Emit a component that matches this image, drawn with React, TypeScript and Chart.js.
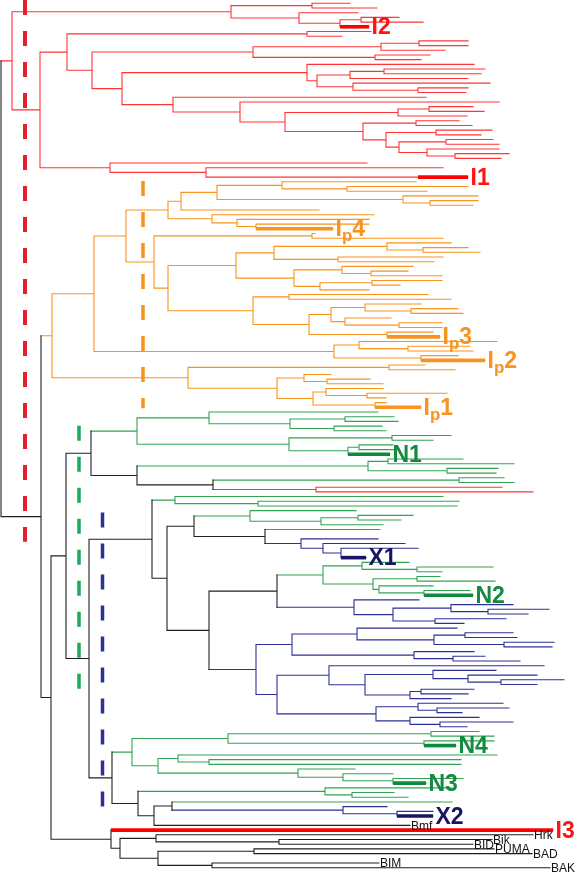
import { useEffect, useRef } from "react";
import { Chart, registerables } from "chart.js";

Chart.register(...registerables);

// ---- Tree data (Newick-like): "(children)x" = node whose vertical joint sits at depth x,
// leaf = [Name:]x = tip ending at depth x, lowercase letter = clade colour, "_" = empty row.
const redA = "((350,377)312,(358,((399,423)361,I2:369)340)299)231";
const redB1 = "(((468,468)419,445)381,(430,421)375)253";
const redB2 = "(474,(((485,481)384,468)350,(490,(468,466)418)353)317)307";
const redB3 =
  "(426,(499,(((473,484)429,467)398,((459,472)416,((492,481)436,((493,499)446,(499,(509,501)455)427)399)386)363)285)240)173";
const redB4 = "(367,(443,_,I1:468)206)110";
const redClade = `r(${redA},(((371,342)307,(${redB1},(${redB2},${redB3})122)92)67,${redB4})40)12`;

const orA = "(((416,(468,427)347)282,(478,(478,473)430)403)217,319)181";
const orB = "(374,(369,(369,Ip4:333)256)237)212";
const orC = "((451,(468,480)423)387,(443,434)338)274";
const orD = "((413,(408,442)371)342,((442,400)372,369)320)294";
const orE = "(((421,(458,463)411)365,(391,(442,442)399)345)331,(433,Ip3:440)387)309";
const orF = "((497,(470,473)408)359,(458,Ip2:485)421)334";
const orG = "((425,455)389,((331,(370,383)327)304,((383,(447,386)367)326,(386,Ip1:421)375)313)277)188";
const orangeClade = `o((((${orA},${orB})168,((315,443)312,((${orC},${orD})236,((428,451)289,${orE})253)168)154)126,${orF})94,${orG})52`;

const n1A = "g((378,((394,398)345,(382,386)334)290)209,((451,433)392,((393,395)359,N1:390)348)289)137";
const n1B = "k(g((463,514)388,(498,496)447)368,(g(504,514)459,r(502,533)316)213)137";
const n1Clade = `k(${n1A},${n1B})91`;

const midA = "g(443,(459,457)258)175";
const midB = "g(356,((413,401)358,383)321)250";
const midC = "k(g380,_,b(378,(405,(418,_,X1:366)341)323)301)265";
const midD =
  "k(g((409,(493,442)417)362,((440,495)417,(433,(470,N2:473)424)379)373)323,b(419,((513,(549,528)488)451,(506,464)435)393)354)277";
const midE =
  "b(((457,((513,517)465,(554,552)504)434)357,(474,(485,520)453)414)292,((544,((496,(537,(564,537)501)468)433,((474,468)421,451)410)365)329,((503,(509,462)437)418,(479,(513,467)440)410)376)277)256";
const midClade = `k(${midA},k(k(${midB},${midC})194,k(${midD},${midE})209)167)152`;

const lowA = "g(((479,494)431,(494,N4:456)424)228,_,((497,(461,461)209)178,(355,(393,(463,N3:426)393)343)298)158)132";
const lowB = "k(g(451,(394,408)352)325,(k(g452,b(387,(433,X2:433)397)343)172,_,Bmf:410)154)138";
const lowClade = `k(${lowA},${lowB})112`;

const bh3Clade =
  "k(rI3:553,((Hrk:533,(Bik:492,BID:473)279)156,((PUMA:494,BAD:532)254,_,(BIM:379,BAK:550)212)158)120)111";

const treeSource = `k(${redClade},k(${orangeClade},k(k(${n1Clade},k(${midClade},${lowClade})89)66,${bh3Clade})51)41)1`;

// Highlighted tips (thick bar from depth markFrom to the tip) and their labels ("_" = subscript next char)
const markLeaves = ["I2", "I1", "Ip4", "Ip3", "Ip2", "Ip1", "N1", "X1", "N2", "N4", "N3", "X2", "I3"];
const markFrom = [340, 418, 256, 387, 421, 375, 348, 341, 424, 424, 393, 397, 111];
const markText = ["I2", "I1", "I_p4", "I_p3", "I_p2", "I_p1", "N1", "X1", "N2", "N4", "N3", "X2", "I3"];

// Plain tip names
const tipLabels = ["Bmf", "Hrk", "Bik", "BID", "PUMA", "BAD", "BIM", "BAK"];

// Dashed clade guides: colour, depth, row span
const guideColor = ["r", "o", "g", "b"];
const guideX = [25, 143, 79, 102.5];
const guideFrom = [-0.7, 37.8, 89.9, 108.4];
const guideTo = [114.6, 86.2, 146.0, 171.0];

const BRANCH: Record<string, string> = { r: "#ff3434", o: "#f7941d", g: "#33a253", b: "#2e3192", k: "#231f20" };
const MARK: Record<string, string> = { r: "#ff0000", o: "#f7931e", g: "#0e8a3c", b: "#1b1464", k: "#000000" };
const LABEL: Record<string, string> = { r: "#ff1414", o: "#f7931e", g: "#128a3f", b: "#1b1464", k: "#000000" };
const GUIDE: Record<string, string> = { r: "#e3202b", o: "#f7941d", g: "#1aab58", b: "#2e3192" };

type TNode = { c: string; x: number; kids: TNode[]; leaf: boolean; spacer: boolean; name?: string; y: number };

function parseTree(src: string): TNode {
  const s = src.replace(/\s+/g, "");
  let i = 0;
  const num = () => {
    const m = /^\d+(\.\d+)?/.exec(s.slice(i));
    if (!m) throw new Error("number expected at " + i + ": " + s.slice(i, i + 20));
    i += m[0].length;
    return parseFloat(m[0]);
  };
  const item = (inh: string): TNode => {
    let c = inh;
    if (/[a-z]/.test(s[i])) {
      c = s[i];
      i++;
    }
    if (s[i] === "_") {
      i++;
      return { c, x: 0, kids: [], leaf: false, spacer: true, y: 0 };
    }
    if (s[i] === "(") {
      i++;
      const kids = [item(c)];
      while (s[i] === ",") {
        i++;
        kids.push(item(c));
      }
      if (s[i] !== ")") throw new Error(") expected at " + i + ": " + s.slice(i, i + 20));
      i++;
      return { c, x: num(), kids, leaf: false, spacer: false, y: 0 };
    }
    let name: string | undefined;
    const m = /^([A-Z][A-Za-z0-9]*):/.exec(s.slice(i));
    if (m) {
      name = m[1];
      i += m[0].length;
    }
    return { c, x: num(), kids: [], leaf: true, spacer: false, name, y: 0 };
  };
  const root = item("k");
  if (i !== s.length) throw new Error("trailing text at " + i + ": " + s.slice(i, i + 20));
  return root;
}

function buildTree() {
  const root = parseTree(treeSource);
  let slot = 0;
  const layout = (n: TNode) => {
    if (n.spacer) {
      slot++;
      return;
    }
    if (n.leaf) {
      n.y = slot++;
      return;
    }
    n.kids.forEach(layout);
    const real = n.kids.filter((k) => !k.spacer);
    n.y = (real[0].y + real[real.length - 1].y) / 2;
  };
  layout(root);
  const segs: Record<string, { x: number; y: number | null }[]> = {};
  const leaves = new Map<string, TNode>();
  const push = (c: string, x0: number, y0: number, x1: number, y1: number) => {
    (segs[c] = segs[c] || []).push({ x: x0, y: y0 }, { x: x1, y: y1 }, { x: x1, y: null });
  };
  const walk = (n: TNode) => {
    if (n.leaf) {
      if (n.name) leaves.set(n.name, n);
      return;
    }
    const real = n.kids.filter((k) => !k.spacer);
    push(n.c, n.x, real[0].y, n.x, real[real.length - 1].y);
    real.forEach((k) => {
      push(k.c, n.x, k.y, k.x, k.y);
      walk(k);
    });
  };
  walk(root);
  return { segs, leaves, rows: slot };
}

export default function App() {
  const ref = useRef<HTMLCanvasElement | null>(null);

  useEffect(() => {
    if (!ref.current) return;
    const { segs, leaves, rows } = buildTree();
    const step = (867.7 - 3.3) / (rows - 1);
    const yMin = -3.3 / step;
    const yMax = (876 - 3.3) / step;

    const datasets: any[] = [];
    guideColor.forEach((c, i) => {
      datasets.push({
        data: [
          { x: guideX[i], y: guideFrom[i] },
          { x: guideX[i], y: guideTo[i] },
        ],
        showLine: true,
        borderColor: GUIDE[c],
        borderWidth: c === "r" ? 4 : 3.5,
        borderDash: [15, 16],
        borderCapStyle: "butt",
        pointRadius: 0,
        order: 0,
      });
    });
    markLeaves.forEach((name, i) => {
      const lf = leaves.get(name)!;
      datasets.push({
        data: [
          { x: markFrom[i], y: lf.y },
          { x: lf.x, y: lf.y },
        ],
        showLine: true,
        borderColor: MARK[lf.c],
        borderWidth: 3.6,
        borderCapStyle: "butt",
        pointRadius: 0,
        order: 1,
      });
    });
    Object.keys(segs).forEach((c) => {
      datasets.push({
        data: segs[c],
        showLine: true,
        spanGaps: false,
        borderColor: BRANCH[c],
        borderWidth: 1.1,
        borderCapStyle: "square",
        pointRadius: 0,
        order: 2,
      });
    });

    const labelPlugin = {
      id: "treeLabels",
      afterDatasetsDraw(chart: any) {
        const ctx = chart.ctx as CanvasRenderingContext2D;
        const xs = chart.scales.x;
        const ys = chart.scales.y;
        ctx.save();
        ctx.textBaseline = "alphabetic";
        ctx.textAlign = "left";
        ctx.fillStyle = "#111111";
        ctx.font = '12px "Liberation Sans", Arial, sans-serif';
        tipLabels.forEach((name) => {
          const lf = leaves.get(name);
          if (!lf) return;
          ctx.fillText(name, xs.getPixelForValue(lf.x) + 1, ys.getPixelForValue(lf.y) + 4.3);
        });
        const big = 'bold 23px "Liberation Sans", Arial, sans-serif';
        const small = 'bold 17px "Liberation Sans", Arial, sans-serif';
        markLeaves.forEach((name, i) => {
          const lf = leaves.get(name)!;
          let px = xs.getPixelForValue(lf.x) + 2.5;
          const base = ys.getPixelForValue(lf.y) + 7.5;
          ctx.fillStyle = LABEL[lf.c];
          const t = markText[i];
          for (let j = 0; j < t.length; j++) {
            let ch = t[j];
            let sub = false;
            if (ch === "_") {
              sub = true;
              j++;
              ch = t[j];
            }
            ctx.font = sub ? small : big;
            ctx.fillText(ch, px, sub ? base + 5 : base);
            px += ctx.measureText(ch).width;
          }
        });
        ctx.restore();
      },
    };

    const chart = new Chart(ref.current, {
      type: "scatter",
      data: { datasets },
      options: {
        animation: false,
        responsive: false,
        events: [],
        layout: { padding: 0 },
        plugins: { legend: { display: false }, tooltip: { enabled: false } },
        scales: {
          x: { type: "linear", min: 0, max: 576, display: false },
          y: { type: "linear", min: yMin, max: yMax, reverse: true, display: false },
        },
      },
      plugins: [labelPlugin],
    });
    return () => chart.destroy();
  }, []);

  return (
    <div style={{ position: "absolute", left: 0, top: 0, width: 576, height: 876, background: "#ffffff" }}>
      <canvas ref={ref} width={576} height={876} style={{ display: "block" }} />
    </div>
  );
}
